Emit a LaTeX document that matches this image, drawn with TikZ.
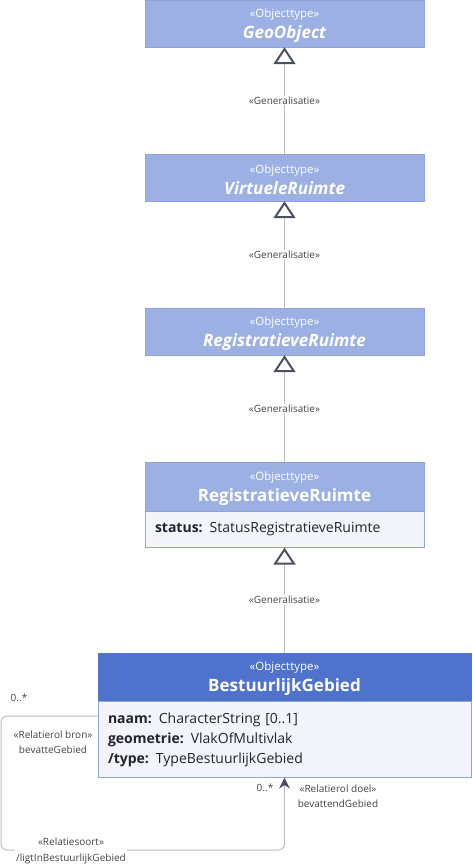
\documentclass[tikz,border=0pt]{standalone}
\usepackage{fontspec}
\setmainfont{Open Sans}
\usepackage{tikz}
\usetikzlibrary{arrows,arrows.meta,positioning}

\definecolor{hdrlight}{HTML}{9DB0E3}
\definecolor{hdrdark}{HTML}{4F73CD}
\definecolor{bodyfill}{HTML}{F4F5FB}
\definecolor{boxline}{HTML}{8FA3DC}
\definecolor{relline}{HTML}{BDBDBD}
\definecolor{tipgray}{HTML}{4A5262}
\definecolor{labeltext}{HTML}{444444}
\definecolor{attrtext}{HTML}{1F2430}

\newcommand{\objtype}[1]{{\fontsize{11.5}{13}\selectfont\mdseries\rule{0pt}{13pt}«Objecttype»}\\[2pt]#1}

\begin{document}
\begin{tikzpicture}[x=1pt,y=-1pt,
    header/.style={rectangle,draw=boxline,fill=hdrlight,text=white,align=center,
      minimum width=279pt,minimum height=47pt,inner sep=0pt,
      font=\fontsize{17}{19}\selectfont\bfseries},
    attrbox/.style={rectangle,draw=boxline,fill=bodyfill,text=attrtext,align=left,
      minimum width=279pt,text width=259pt,inner xsep=10pt,inner ysep=0pt,
      font=\fontsize{14}{20}\selectfont},
    gen/.style={draw=relline,line width=1pt,
      -{Triangle[open,width=22pt,length=17pt,line width=2pt,color=tipgray]}},
    assoc/.style={draw=relline,line width=1pt,
      -{Stealth[length=11pt,width=11pt,color=tipgray]}},
    reltext/.style={text=labeltext,align=center,inner sep=1pt,
      font=\fontsize{10}{15.5}\selectfont}]
  \useasboundingbox (0,0) rectangle (472,868);

  % classes
  \node[header]         (geo) at (284.5,23.5)  {\objtype{\itshape GeoObject}};
  \node[header]         (vr)  at (284.5,177.5) {\objtype{\itshape VirtueleRuimte}};
  \node[header]         (rra) at (284.5,331.5) {\objtype{\itshape RegistratieveRuimte}};
  \node[header,minimum height=49pt] (rrh) at (284.5,486.5) {\objtype{RegistratieveRuimte}};
  \node[attrbox,minimum height=36pt] (rrb) [below=0pt of rrh]
       {\textbf{status:} StatusRegistratieveRuimte};
  \node[header,fill=hdrdark,draw=hdrdark,minimum width=373pt,minimum height=48pt]
       (bgh) at (284.5,677) {\objtype{BestuurlijkGebied}};
  \node[attrbox,minimum width=373pt,text width=353pt,minimum height=76pt] (bgb) [below=0pt of bgh]
       {\textbf{naam:} CharacterString [0..1]\\
        \textbf{geometrie:} VlakOfMultivlak\\
        \textbf{/type:} TypeBestuurlijkGebied};

  % generalisaties
  \path (vr)  edge[gen] node[reltext,fill=white]{«Generalisatie»} (geo)
        (rra) edge[gen] node[reltext,fill=white]{«Generalisatie»} (vr)
        (rrh) edge[gen] node[reltext,fill=white]{«Generalisatie»} (rra)
        (bgh) edge[gen] node[reltext,fill=white]{«Generalisatie»} (rrb);

  % relatie naar zichzelf
  \coordinate (lp) at (1,850);
  \draw[assoc,rounded corners=6pt] ([yshift=-15pt]bgb.north west) -| (lp) -| (bgb.south);
  \node[reltext] (mbron) at (19,698) {0..*};
  \node[reltext] (bron)  at (53,742) {«Relatierol bron»\\bevatteGebied};
  \node[reltext] (mdoel) at (265,788) {0..*};
  \node[reltext] (doel)  at (338,796) {«Relatierol doel»\\bevattendGebied};
  \node[reltext,fill=white] (soort) at (71,851) {«Relatiesoort»\\/ligtInBestuurlijkGebied};
\end{tikzpicture}
\end{document}
